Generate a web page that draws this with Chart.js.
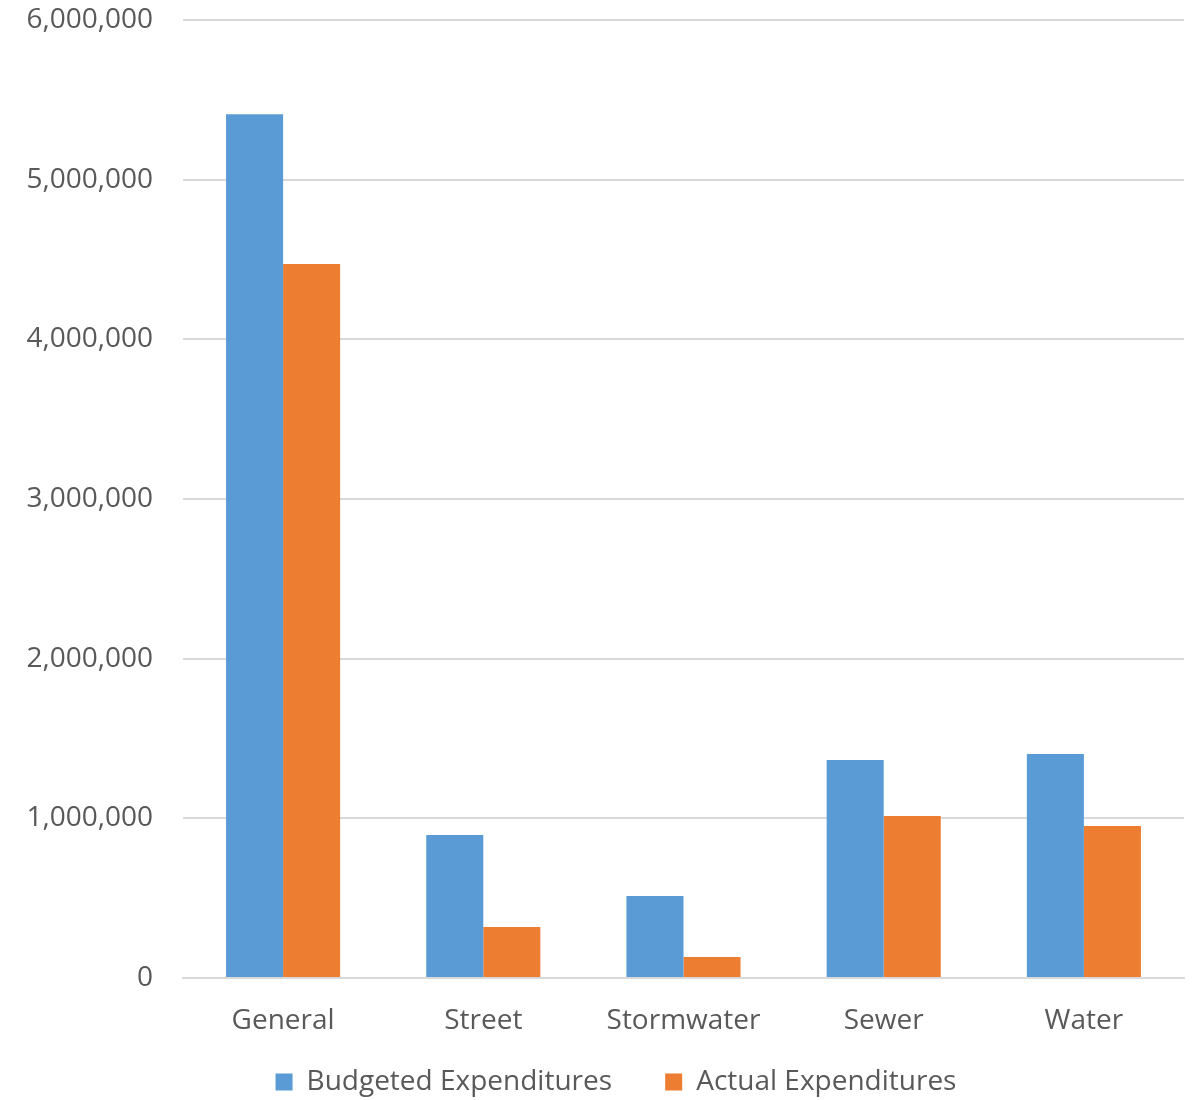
<!DOCTYPE html>
<html>
<head>
<meta charset="utf-8">
<script src="https://cdn.jsdelivr.net/npm/chart.js@4"></script>
<style>
  html, body { margin: 0; padding: 0; background: #fff; }
  #wrap { width: 1197px; height: 1100px; }
</style>
</head>
<body>
<div id="wrap"><canvas id="fundChart"></canvas></div>
<script>
const categories = ['General', 'Street', 'Stormwater', 'Sewer', 'Water'];
const budgeted = [5410000, 896000, 514000, 1365000, 1403000];
const actual = [4472000, 320000, 132000, 1015000, 952000];
const yTicks = [0, 1000000, 2000000, 3000000, 4000000, 5000000, 6000000];

const fontFamily = "'Open Sans', 'Noto Sans', sans-serif";
const textColor = '#595959';

// the legend sits a bit right of centre in the original
const legendNudge = {
    id: 'legendNudge',
    afterLayout(chart) {
        if (chart.legend) {
            chart.legend.left += 24;
            chart.legend.right += 24;
        }
    }
};

const ctx = document.getElementById('fundChart').getContext('2d');

new Chart(ctx, {
    type: 'bar',
    data: {
        labels: categories,
        datasets: [{
            label: 'Budgeted Expenditures',
            data: budgeted,
            backgroundColor: '#5B9BD5',
            categoryPercentage: 0.57,
            barPercentage: 1.0
        }, {
            label: 'Actual Expenditures',
            data: actual,
            backgroundColor: '#ED7D31',
            categoryPercentage: 0.57,
            barPercentage: 1.0
        }]
    },
    options: {
        responsive: true,
        maintainAspectRatio: false,
        animation: false,
        layout: {
            padding: { top: 20, right: 13, bottom: -6, left: 0 }
        },
        plugins: {
            legend: {
                position: 'bottom',
                labels: {
                    color: textColor,
                    font: { family: fontFamily, size: 28 },
                    boxWidth: 17,
                    boxHeight: 17,
                    padding: 24,
                    generateLabels: function (chart) {
                        const items = Chart.defaults.plugins.legend.labels.generateLabels(chart);
                        // widen the gap between the two entries
                        items[0].text = items[0].text + '    ';
                        return items;
                    }
                }
            },
            tooltip: { enabled: false }
        },
        scales: {
            x: {
                grid: { display: false },
                border: { color: '#d9d9d9', width: 2 },
                afterFit: function (scale) {
                    scale.height = 66;
                },
                ticks: {
                    color: textColor,
                    font: { family: fontFamily, size: 28 },
                    padding: 18
                }
            },
            y: {
                min: 0,
                max: 6000000,
                afterBuildTicks: function (scale) {
                    scale.ticks = yTicks.map(v => ({ value: v }));
                },
                afterFit: function (scale) {
                    scale.width = 183;
                    scale.paddingTop = 0;
                    scale.paddingBottom = 0;
                },
                grid: { color: '#d9d9d9', lineWidth: 2, drawTicks: false },
                border: { display: false },
                ticks: {
                    color: textColor,
                    font: { family: fontFamily, size: 28 },
                    padding: 30,
                    callback: function (value) {
                        return value.toLocaleString('en-US');
                    }
                }
            }
        }
    },
    plugins: [legendNudge]
});
</script>
</body>
</html>
